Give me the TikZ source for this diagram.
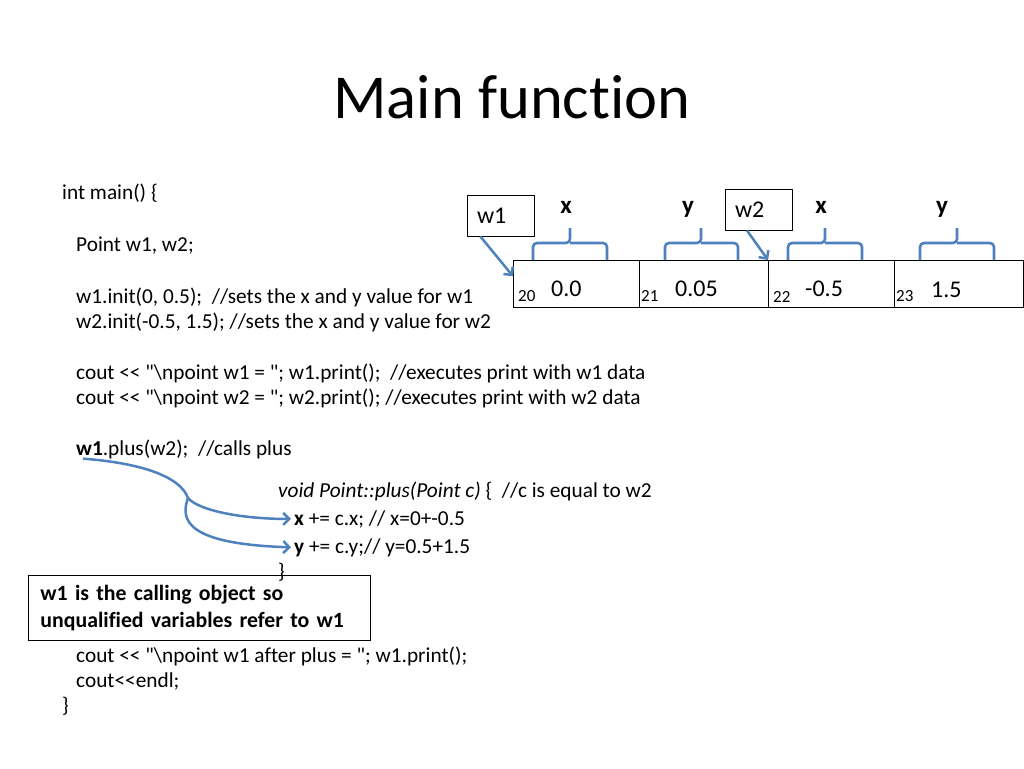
\documentclass[tikz,border=0pt]{standalone}
\usepackage{fontspec}
\newfontfamily\slidefont{Carlito}[Ligatures=NoCommon]
\usetikzlibrary{positioning,arrows.meta}
\definecolor{officeblue}{HTML}{4F81BD}
\begin{document}
\begin{tikzpicture}[x=1pt, y=-1pt]
    % Define Styles
        \tikzstyle{title} = [
            anchor = base,
            inner sep = 0pt,
            font = \slidefont\fontsize{62.5}{70}\selectfont
        ]
        \tikzstyle{code} = [
            anchor = base west,
            inner sep = 0pt,
            font = \slidefont\fontsize{21.3}{25}\selectfont
        ]
        \tikzstyle{cell} = [
            rectangle,
            draw,
            anchor = north west,
            minimum height = 47pt,
            line width = 1.1pt
        ]
        \tikzstyle{addr} = [
            anchor = base west,
            inner sep = 0pt,
            font = \slidefont\fontsize{17}{20}\selectfont
        ]
        \tikzstyle{value} = [
            anchor = base west,
            inner sep = 0pt,
            font = \slidefont\fontsize{24}{27}\selectfont
        ]
        \tikzstyle{field} = [
            anchor = base,
            inner sep = 0pt,
            font = \slidefont\bfseries\fontsize{25}{28}\selectfont
        ]
        \tikzstyle{pointer} = [
            rectangle,
            draw,
            line width = 0.8pt,
            minimum width = 67pt,
            minimum height = 41pt,
            text width = 47pt,
            inner xsep = 10pt,
            align = left,
            font = \slidefont\fontsize{24}{27}\selectfont
        ]
        \tikzstyle{note} = [
            rectangle,
            draw,
            anchor = north west,
            line width = 0.9pt,
            minimum width = 342pt,
            minimum height = 65pt,
            text width = 318pt,
            inner xsep = 12pt,
            align = left,
            font = \slidefont\bfseries\fontsize{21.8}{27}\selectfont
        ]
        \tikzstyle{brace} = [
            draw = officeblue,
            line width = 2.6pt,
            rounded corners = 4pt
        ]
        \tikzstyle{line} = [
            draw = officeblue,
            line width = 2.5pt,
            -{Straight Barb[length=6pt, width=12pt]}
        ]
    \useasboundingbox (0,0) rectangle (1024,768);
    % Title
        \node [title] (title) at (512,118) {Main function};
    % Place code lines
        \node [code] (main) at (62,199) {int main() \{};
        \node [code] (decl) at (76,251) {Point w1, w2;};
        \node [code] (init1) at (76,303) {w1.init(0, 0.5);\ \ //sets the x and y value for w1};
        \node [code] (init2) at (76,328) {w2.init(-0.5, 1.5); //sets the x and y value for w2};
        \node [code] (print1) at (76,379) {cout << "\textbackslash npoint w1 = "; w1.print();\ \ //executes print with w1 data};
        \node [code] (print2) at (76,404) {cout << "\textbackslash npoint w2 = "; w2.print(); //executes print with w2 data};
        \node [code] (call) at (76,455) {\textbf{w1}.plus(w2);\ \ //calls plus};
        \node [code] (plushead) at (278,497) {\textit{void Point::plus(Point c)} \{\ \ //c is equal to w2};
        \node [code] (xupd) at (294,525) {\textbf{x} += c.x; // x=0+-0.5};
        \node [code] (yupd) at (294,553) {\textbf{y} += c.y;// y=0.5+1.5};
        \node [code] (plusend) at (278,578) {\}};
        \node [code] (print3) at (76,662) {cout << "\textbackslash npoint w1 after plus = "; w1.print();};
        \node [code] (endl) at (76,687) {cout<<endl;};
        \node [code] (mainend) at (62,712) {\}};
    % Place memory
        \draw [brace] (533,260) -- (533,243) -- (570,243) -- (570,228) (570,243) -- (607,243) -- (607,260);
        \draw [brace] (665,260) -- (665,243) -- (701,243) -- (701,228) (701,243) -- (738,243) -- (738,260);
        \draw [brace] (788,260) -- (788,243) -- (825,243) -- (825,228) (825,243) -- (862,243) -- (862,260);
        \draw [brace] (920,260) -- (920,243) -- (957,243) -- (957,228) (957,243) -- (994,243) -- (994,260);
        \node [cell, minimum width = 126pt] (m20) at (513,260) {};
        \node [cell, minimum width = 129pt] (m21) at (639,260) {};
        \node [cell, minimum width = 126pt] (m22) at (768,260) {};
        \node [cell, minimum width = 129pt] (m23) at (894,260) {};
        \node [addr] (a20) at (518,301) {20};
        \node [addr] (a21) at (641,301) {21};
        \node [addr] (a22) at (773,302) {22};
        \node [addr] (a23) at (896,301) {23};
        \node [value] (v20) at (551,296) {0.0};
        \node [value] (v21) at (675,296) {0.05};
        \node [value] (v22) at (805,296) {-0.5};
        \node [value] (v23) at (931,297) {1.5};
        \node [field] (fx1) at (566,213) {x};
        \node [field] (fy1) at (688,213) {y};
        \node [field] (fx2) at (821,213) {x};
        \node [field] (fy2) at (942,213) {y};
        \node [pointer] (w1) at (500.5,215.5) {w1};
        \node [pointer] (w2) at (758.5,209.5) {w2};
        \node [note] (note) at (28,575) {w1 is the calling object so\\unqualified variables refer to w1};
    % Draw edges
        \path [line] (w1.226) -- (m20.173);
        \path [line] (w2.241) -- (m22.north west);
        \path [line] ([xshift=7pt]call.south west) .. controls (140,463) and (180,476) .. (188,498)
            coordinate (fork) .. controls (198,510) and (240,519) .. ([xshift=-3pt]xupd.west);
        \path [line] (fork) .. controls (180,520) and (186,544) .. ([xshift=-3pt]yupd.west);
\end{tikzpicture}
\end{document}
